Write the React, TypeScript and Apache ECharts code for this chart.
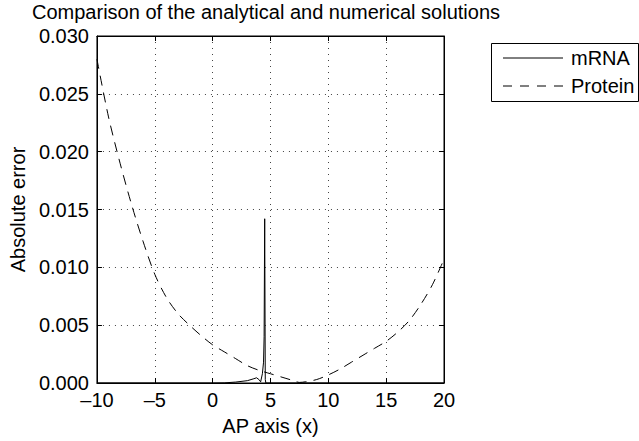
import React, { useEffect, useRef } from "react";
import * as echarts from "echarts";

const titleText = "Comparison of the analytical and numerical solutions";
const xTicks = [-10, -5, 0, 5, 10, 15, 20];
const yTicks = [0, 0.005, 0.01, 0.015, 0.02, 0.025, 0.03];
const legendNames = ["mRNA", "Protein"];

const proteinX = [-10, -9, -8, -7, -6, -5, -4, -3, -2, -1, 0, 1, 2, 3, 4, 5, 6, 7, 7.5, 8, 9, 10, 11, 12, 13, 14, 15, 16, 17, 18, 19, 20];
const proteinY = [0.028, 0.023, 0.019, 0.0154, 0.0122, 0.0094, 0.0074, 0.006, 0.005, 0.0041, 0.0033, 0.0027, 0.0021, 0.0015, 0.0011, 0.0008, 0.0005, 0.0002, 0.00005, 0.0001, 0.0003, 0.0007, 0.0012, 0.0018, 0.0024, 0.003, 0.0036, 0.0044, 0.0054, 0.0068, 0.0085, 0.0107];

const mrnaX = [-10, -5, 0, 1, 2, 3, 3.5, 3.8, 4.0, 4.15, 4.3, 4.4, 4.45, 4.5, 4.55, 4.6, 5, 10, 15, 20];
const mrnaY = [0, 0, 0, 0.00001, 0.00008, 0.0002, 0.00035, 0.00045, 0.0003, 0.0001, 0.0008, 0.0018, 0.004, 0.0142, 0.0003, 0, 0, 0, 0, 0];

const FONT = "Liberation Sans, Arial, Helvetica, sans-serif";
const FS = 20;

export default function App() {
  const ref = useRef<HTMLDivElement>(null);
  useEffect(() => {
    if (!ref.current) return;
    const chart = echarts.init(ref.current, undefined, { renderer: "svg" });
    const xMin = xTicks[0];
    const xMax = xTicks[xTicks.length - 1];
    const yMin = yTicks[0];
    const yMax = yTicks[yTicks.length - 1];
    const gridLine = { show: true, lineStyle: { color: "#444", width: 1, type: [1, 5] as any } };
    const xFmt = (v: number) => (v < 0 ? "\u2013" + Math.abs(v) : String(v));
    const lx = 491, ly = 43, lw = 147, lh = 58;
    const r1 = ly + 15, r2 = ly + 43;
    chart.setOption({
      animation: false,
      backgroundColor: "#fff",
      textStyle: { fontFamily: FONT },
      title: {
        text: titleText,
        left: 32,
        top: 2,
        padding: 0,
        textStyle: { fontSize: FS, fontWeight: "normal", color: "#000", fontFamily: FONT },
      },
      grid: { left: 94, right: 195, top: 36, bottom: 56, show: true, borderColor: "#000", borderWidth: 1, backgroundColor: "#fff" },
      graphic: [
        { type: "rect", left: lx, top: ly, shape: { width: lw, height: lh }, style: { fill: "#fff", stroke: "#000", lineWidth: 1 }, z: 10 },
        { type: "line", shape: { x1: lx + 12, y1: r1, x2: lx + 72, y2: r1 }, style: { stroke: "#000", lineWidth: 1 }, z: 11 },
        { type: "line", shape: { x1: lx + 12, y1: r2, x2: lx + 72, y2: r2 }, style: { stroke: "#000", lineWidth: 1, lineDash: [9, 8] }, z: 11 },
        { type: "text", x: lx + 80, y: r1, style: { text: legendNames[0], fontSize: FS, fontFamily: FONT, fill: "#000", verticalAlign: "middle", align: "left" }, z: 11 },
        { type: "text", x: lx + 80, y: r2, style: { text: legendNames[1], fontSize: FS, fontFamily: FONT, fill: "#000", verticalAlign: "middle", align: "left" }, z: 11 },
      ],
      xAxis: [
        {
          type: "value",
          min: xMin,
          max: xMax,
          interval: 5,
          name: "AP axis (x)",
          nameLocation: "middle",
          nameGap: 33,
          nameTextStyle: { fontSize: FS, color: "#000", fontFamily: FONT },
          axisLine: { show: true, onZero: false, lineStyle: { color: "#000", width: 1 } },
          axisTick: { show: true, inside: true, length: 5, lineStyle: { color: "#000" } },
          axisLabel: { fontSize: FS, color: "#000", margin: 7, formatter: xFmt, fontFamily: FONT },
          splitLine: gridLine,
        },
        {
          type: "value",
          position: "top",
          min: xMin,
          max: xMax,
          interval: 5,
          axisLine: { show: true, onZero: false, lineStyle: { color: "#000", width: 1 } },
          axisTick: { show: true, inside: true, length: 5, lineStyle: { color: "#000" } },
          axisLabel: { show: false },
          splitLine: { show: false },
        },
      ],
      yAxis: [
        {
          type: "value",
          min: yMin,
          max: yMax,
          interval: 0.005,
          name: "Absolute error",
          nameLocation: "middle",
          nameGap: 67,
          nameTextStyle: { fontSize: FS, color: "#000", fontFamily: FONT },
          axisLine: { show: true, onZero: false, lineStyle: { color: "#000", width: 1 } },
          axisTick: { show: true, inside: true, length: 5, lineStyle: { color: "#000" } },
          axisLabel: { fontSize: FS, color: "#000", margin: 8, formatter: (v: number) => v.toFixed(3), fontFamily: FONT },
          splitLine: gridLine,
        },
        {
          type: "value",
          position: "right",
          min: yMin,
          max: yMax,
          interval: 0.005,
          axisLine: { show: true, onZero: false, lineStyle: { color: "#000", width: 1 } },
          axisTick: { show: true, inside: true, length: 5, lineStyle: { color: "#000" } },
          axisLabel: { show: false },
          splitLine: { show: false },
        },
      ],
      series: [
        {
          name: legendNames[0],
          type: "line",
          data: mrnaX.map((x, i) => [x, mrnaY[i]]),
          showSymbol: false,
          symbol: "none",
          color: "#000",
          lineStyle: { color: "#000", width: 1 },
          z: 3,
        },
        {
          name: legendNames[1],
          type: "line",
          data: proteinX.map((x, i) => [x, proteinY[i]]),
          showSymbol: false,
          symbol: "none",
          smooth: 0.3,
          color: "#000",
          lineStyle: { color: "#000", width: 1, type: [10, 7] },
          z: 2,
        },
      ],
    });
    return () => chart.dispose();
  }, []);
  return <div ref={ref} style={{ position: "absolute", left: 0, top: 0, width: 639, height: 441 }} />;
}
